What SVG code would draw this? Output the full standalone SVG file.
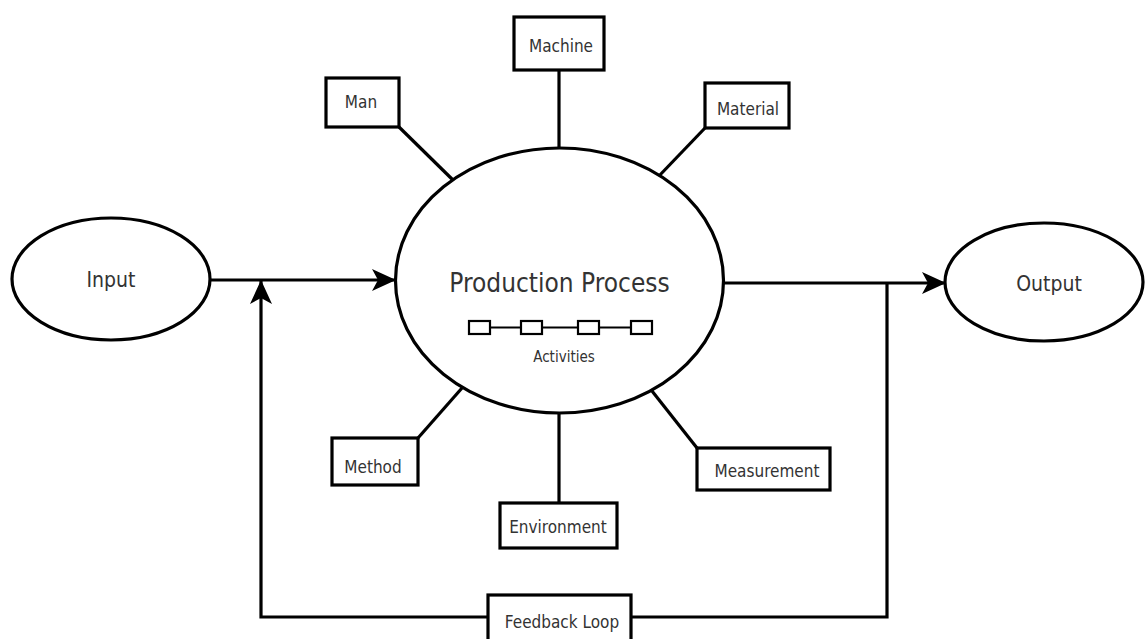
<svg xmlns="http://www.w3.org/2000/svg" width="1145" height="639" viewBox="0 0 1145 639">
  <style>
    .shape { fill: #ffffff; stroke: #000000; stroke-width: 3.2; }
    .link { fill: none; stroke: #000000; stroke-width: 3.2; }
    .thin { fill: none; stroke: #000000; stroke-width: 1.8; }
    .step { fill: #ffffff; stroke: #000000; stroke-width: 2.2; }
    text { font-family: "DejaVu Sans Condensed", "DejaVu Sans", sans-serif; font-stretch: condensed; fill: #333333; text-anchor: middle; }
    .lbl { font-size: 17px; }
    .big { font-size: 21px; }
    .title { font-size: 26px; }
    .small { font-size: 15px; }
  </style>
  <defs>
    <marker id="arrow" viewBox="0 0 24 22" refX="23" refY="11" markerWidth="24" markerHeight="22" markerUnits="userSpaceOnUse" orient="auto">
      <path d="M0,0 L24,11 L0,22 L6,11 Z" fill="#000000"/>
    </marker>
  </defs>
  <rect width="1145" height="639" fill="#ffffff"/>

  <!-- connectors -->
  <g id="connectors">
    <line class="link" x1="399" y1="127" x2="455" y2="182"/>
    <line class="link" x1="559" y1="70" x2="559" y2="150"/>
    <line class="link" x1="705" y1="128" x2="658" y2="177"/>
    <line class="link" x1="418" y1="438" x2="462" y2="388"/>
    <line class="link" x1="559" y1="411" x2="559" y2="503"/>
    <line class="link" x1="652" y1="391" x2="697" y2="448"/>
    <line class="link" x1="210" y1="280" x2="395" y2="280" marker-end="url(#arrow)"/>
    <line class="link" x1="723" y1="283" x2="945" y2="283" marker-end="url(#arrow)"/>
    <polyline class="link" points="887,283 887,617 631,617"/>
    <polyline class="link" points="488,617 261,617 261,281" marker-end="url(#arrow)"/>
  </g>

  <!-- main process -->
  <g id="production-process">
    <ellipse class="shape" cx="559.5" cy="280.5" rx="164" ry="132.5"/>
    <text class="title" x="559.5" y="292">Production Process</text>
    <line class="thin" x1="490" y1="327.5" x2="631" y2="327.5"/>
    <rect class="step" x="469" y="321" width="21" height="13"/>
    <rect class="step" x="521" y="321" width="21" height="13"/>
    <rect class="step" x="578" y="321" width="21" height="13"/>
    <rect class="step" x="631" y="321" width="21" height="13"/>
    <text class="small" x="564" y="362">Activities</text>
  </g>

  <g id="input">
    <ellipse class="shape" cx="111" cy="279" rx="99" ry="61"/>
    <text class="big" x="111" y="287">Input</text>
  </g>

  <g id="output">
    <ellipse class="shape" cx="1044" cy="282" rx="99" ry="59"/>
    <text class="big" x="1049" y="291">Output</text>
  </g>

  <g id="man">
    <rect class="shape" x="326" y="78" width="73" height="49"/>
    <text class="lbl" x="361" y="108">Man</text>
  </g>

  <g id="machine">
    <rect class="shape" x="514" y="17" width="90" height="53"/>
    <text class="lbl" x="561" y="52">Machine</text>
  </g>

  <g id="material">
    <rect class="shape" x="705" y="83" width="84" height="45"/>
    <text class="lbl" x="748" y="115">Material</text>
  </g>

  <g id="method">
    <rect class="shape" x="332" y="438" width="86" height="47"/>
    <text class="lbl" x="373" y="473">Method</text>
  </g>

  <g id="environment">
    <rect class="shape" x="500" y="503" width="117" height="45"/>
    <text class="lbl" x="558" y="533">Environment</text>
  </g>

  <g id="measurement">
    <rect class="shape" x="697" y="448" width="133" height="42"/>
    <text class="lbl" x="767" y="477">Measurement</text>
  </g>

  <g id="feedback-loop">
    <rect class="shape" x="488" y="595" width="143" height="50"/>
    <text class="lbl" x="562" y="628">Feedback Loop</text>
  </g>
</svg>
